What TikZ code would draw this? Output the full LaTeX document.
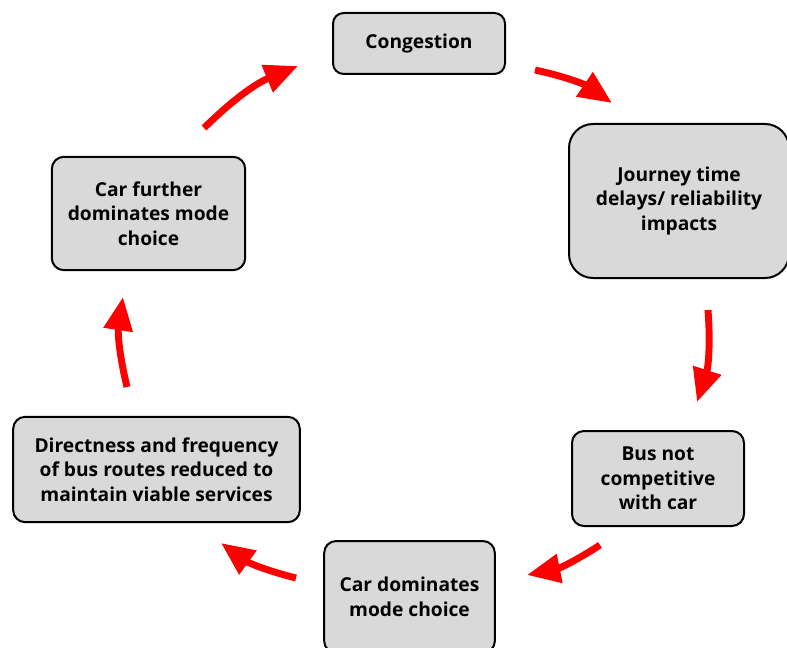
\documentclass[tikz,border=0pt]{standalone}
\usepackage{fontspec}
\setmainfont{Open Sans}
\usetikzlibrary{arrows.meta}

\definecolor{boxgray}{HTML}{D9D9D9}
\definecolor{cyclered}{HTML}{FF0000}

\tikzset{
  stage/.style={draw=black, line width=1.5pt, fill=boxgray, rounded corners=9pt,
    align=center, font=\fontsize{14.4}{18.4}\selectfont\bfseries, inner sep=2pt},
  cyclearrow/.style={draw=cyclered, line width=5.2pt,
    -{Triangle[length=25pt,width=21pt]}, bend left=11}
}

\begin{document}
\begin{tikzpicture}[x=0.75pt,y=-0.75pt]
      \useasboundingbox (0,0) rectangle (787,648);
      % Draw the stages
      \node[stage, rounded corners=8pt, minimum width=129pt, minimum height=45.75pt] (cong) at (419,43.5) {Congestion};
      \node[stage, rounded corners=18pt, minimum width=165pt, minimum height=115.5pt] (jour) at (679,201) {Journey time\\delays/ reliability\\impacts};
      \node[stage, minimum width=129pt, minimum height=71.25pt] (bus) at (658,478.5) {Bus not\\competitive\\with car};
      \node[stage, minimum width=128pt, minimum height=84pt] (cardom) at (409.5,597) {Car dominates\\mode choice};
      \node[stage, minimum width=215pt, minimum height=79pt] (direct) at (156.5,469.5) {Directness and frequency\\of bus routes reduced to\\maintain viable services};
      \node[stage, minimum width=145pt, minimum height=85pt] (further) at (148.5,213.5) {Car further\\dominates mode\\choice};
      % Draw the arrow ends
      \coordinate (a1s) at (535,70);  \coordinate (a1e) at (612,103);
      \coordinate (a2s) at (708,310); \coordinate (a2e) at (697,402);
      \coordinate (a3s) at (600,545); \coordinate (a3e) at (527,575);
      \coordinate (a4s) at (296,578); \coordinate (a4e) at (221,543);
      \coordinate (a5s) at (127,387); \coordinate (a5e) at (123,297);
      \coordinate (a6s) at (204,128); \coordinate (a6e) at (298,66);
      % Draw the cycle
      \draw[cyclearrow] (a1s) to (a1e);
      \draw[cyclearrow] (a2s) to (a2e);
      \draw[cyclearrow] (a3s) to (a3e);
      \draw[cyclearrow] (a4s) to (a4e);
      \draw[cyclearrow] (a5s) to (a5e);
      \draw[cyclearrow] (a6s) to (a6e);
    \end{tikzpicture}
\end{document}
